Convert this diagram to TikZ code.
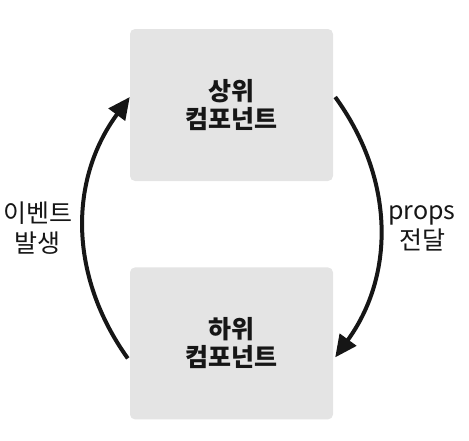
\documentclass[tikz,border=0pt]{standalone}
\usepackage{fontspec}
\setmainfont{Noto Sans CJK KR}
\usepackage{tikz}
\usetikzlibrary{arrows.meta, positioning}
\definecolor{compfill}{HTML}{E4E4E4}
\definecolor{compink}{HTML}{161616}

\begin{document}
\begin{tikzpicture}[
    x=1pt,y=-1pt,
    comp/.style={fill=compfill,rounded corners=5pt,minimum width=203pt,minimum height=152pt,align=center,font=\fontsize{25}{28}\selectfont\bfseries,text=compink},
    flow/.style={line width=4pt,-{Triangle[length=22pt,width=20pt]},compink},
    tag/.style={align=center,font=\fontsize{25}{30}\selectfont,text=compink},
    node distance=86pt
  ]
    \useasboundingbox (0,0) rectangle (469,440);
    \node[comp] (upper) at (231.5,105) {상위\\컴포넌트};
    \node[comp, below=of upper] (lower) {하위\\컴포넌트};

    \node[tag] (evt) at (38,228) {이벤트\\발생};
    \node[tag] (prp) at (422,228) {props\\전달};

    \draw[flow] ([xshift=-2pt,yshift=-15pt]lower.west) to[bend left=36] ([yshift=8pt]upper.west);
    \draw[flow] ([xshift=2pt,yshift=8pt]upper.east) to[bend left=36] ([xshift=2pt,yshift=-14pt]lower.east);
  \end{tikzpicture}
\end{document}
